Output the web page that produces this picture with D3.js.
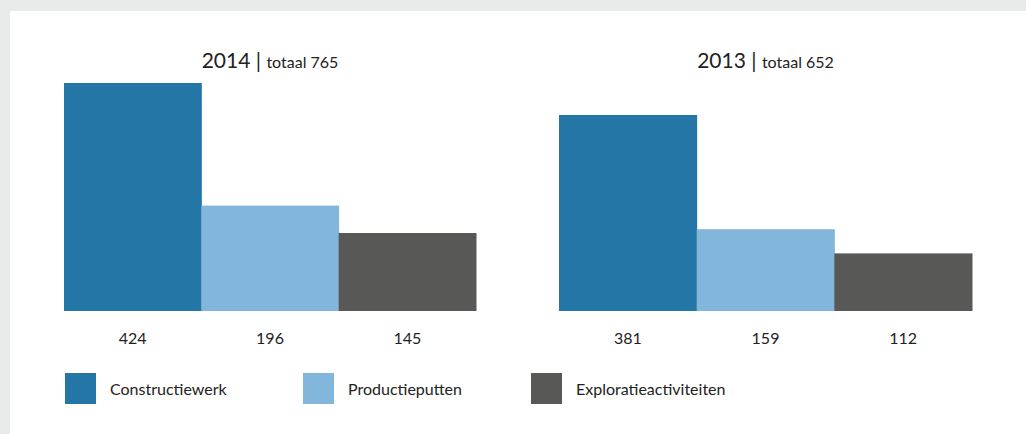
<!DOCTYPE html>
<html>
<head>
<meta charset="utf-8">
<script src="https://cdn.jsdelivr.net/npm/d3@7"></script>
<style>
  html, body { margin: 0; padding: 0; background: #e8ebea; }
  body { width: 1026px; height: 434px; overflow: hidden; }
  svg { display: block; font-family: Lato, "Open Sans", sans-serif; }
</style>
</head>
<body>
<svg id="chart" width="1026" height="434"></svg>
<script>
const categories = ["Constructiewerk", "Productieputten", "Exploratieactiviteiten"];
const years = ["2014", "2013"];
const totals = [765, 652];
const values2014 = [424, 196, 145];
const values2013 = [381, 159, 112];
const colors = ["#2376a6", "#82b6da", "#585856"];

const svg = d3.select("#chart");
svg.append("rect").attr("x", 10).attr("y", 11).attr("width", 1016).attr("height", 423).attr("fill", "#fff");

const panels = [
  { year: years[0], total: totals[0], values: values2014, x0: 64, x1: 476, h: 228 },
  { year: years[1], total: totals[1], values: values2013, x0: 559, x1: 972, h: 196 }
];
const baseline = 311;

panels.forEach(p => {
  const g = svg.append("g");
  const x = d3.scaleBand().domain(categories).range([p.x0, p.x1]).padding(0);
  const y = d3.scaleLinear().domain([0, d3.max(p.values)]).range([baseline, baseline - p.h]);
  const data = categories.map((c, i) => ({ c, v: p.values[i], col: colors[i] }));
  g.selectAll("rect.bar").data(data).join("rect")
    .attr("class", "bar")
    .attr("x", d => x(d.c))
    .attr("width", x.bandwidth() + 0.5)
    .attr("y", d => y(d.v))
    .attr("height", d => baseline - y(d.v))
    .attr("fill", d => d.col);
  g.selectAll("text.val").data(data).join("text")
    .attr("class", "val")
    .attr("x", d => x(d.c) + x.bandwidth() / 2)
    .attr("y", 344)
    .attr("text-anchor", "middle")
    .attr("font-size", 16)
    .attr("fill", "#222")
    .text(d => d.v);
  const t = g.append("text")
    .attr("x", (p.x0 + p.x1) / 2)
    .attr("y", 68)
    .attr("text-anchor", "middle")
    .attr("fill", "#222");
  t.append("tspan").attr("font-size", 21).text(p.year + " | ");
  t.append("tspan").attr("font-size", 16).text("totaal " + p.total);
});

const legendX = [65, 303, 531];
const lg = svg.append("g").selectAll("g").data(categories).join("g")
  .attr("transform", (d, i) => `translate(${legendX[i]},373)`);
lg.append("rect").attr("width", 31).attr("height", 31).attr("fill", (d, i) => colors[i]);
lg.append("text").attr("x", 45).attr("y", 22).attr("font-size", 16).attr("fill", "#222").text(d => d);
</script>
</body>
</html>
